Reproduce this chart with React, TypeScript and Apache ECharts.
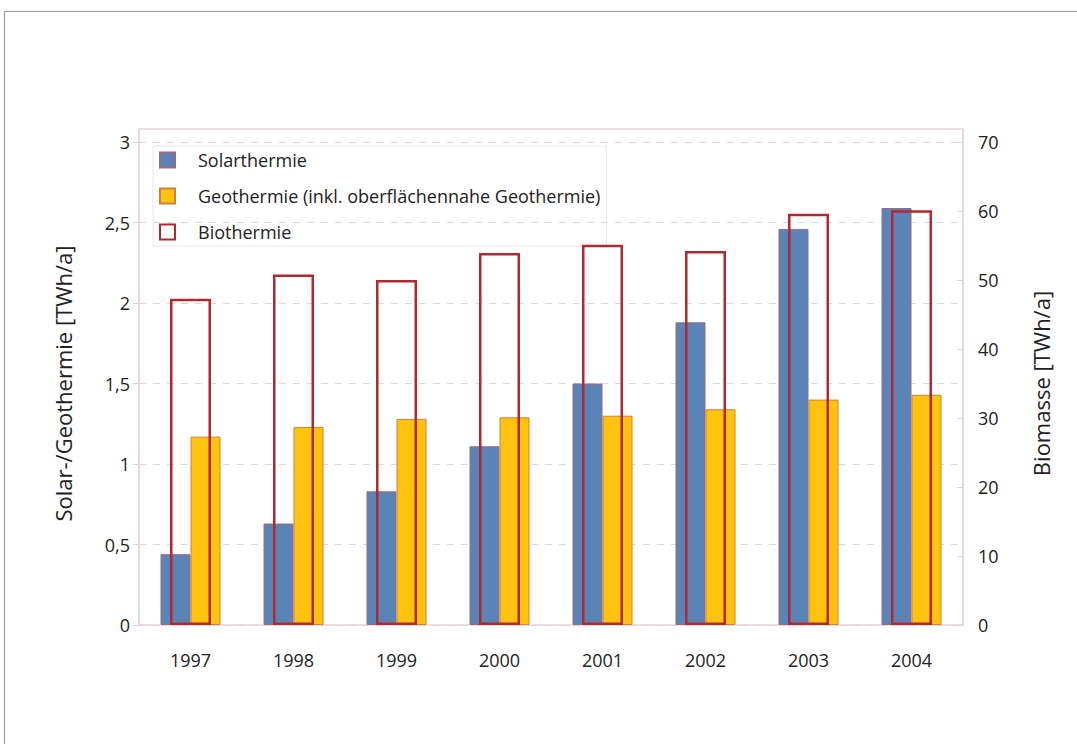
import React, { useEffect, useRef } from "react";
import * as echarts from "echarts";

const years = ["1997", "1998", "1999", "2000", "2001", "2002", "2003", "2004"];
const solar = [0.44, 0.63, 0.83, 1.11, 1.5, 1.88, 2.46, 2.59];
const geo = [1.17, 1.23, 1.28, 1.29, 1.3, 1.34, 1.4, 1.43];
const bio = [47.3, 50.8, 50.0, 53.9, 55.1, 54.2, 59.6, 60.1];
const leftTicks = [0, 0.5, 1, 1.5, 2, 2.5, 3];

const seriesNames = [
  "Solarthermie",
  "Geothermie (inkl. oberflächennahe Geothermie)",
  "Biothermie",
];

const FONT = "Open Sans";

export default function App() {
  const ref = useRef<HTMLDivElement>(null);
  useEffect(() => {
    if (!ref.current) return;
    const chart = echarts.init(ref.current, null, { renderer: "svg" });
    const fmt = (v: number) => String(v).replace(".", ",");
    chart.setOption({
      animation: false,
      backgroundColor: "#ffffff",
      textStyle: { fontFamily: FONT, color: "#222" },
      graphic: [
        {
          type: "rect",
          shape: { x: 4.5, y: 11.5, width: 1200, height: 900 },
          style: { fill: "none", stroke: "#9c9c9c", lineWidth: 1.2 },
          silent: true,
        },
        {
          type: "rect",
          shape: { x: 139, y: 129, width: 824, height: 496 },
          style: { fill: "none", stroke: "#dcbcc6", lineWidth: 1.2 },
          silent: true,
          z: 0,
        },
      ],
      legend: {
        orient: "vertical",
        left: 153,
        top: 146,
        z: 1,
        padding: [5, 6, 5, 6],
        itemWidth: 15,
        itemHeight: 15,
        itemGap: 18,
        icon: "rect",
        borderColor: "#e8e8e8",
        borderWidth: 1,
        data: seriesNames,
        textStyle: {
          fontFamily: FONT,
          fontSize: 18,
          color: "#222",
          padding: [0, 0, 0, 18],
        },
      },
      grid: { left: 139, right: 114, top: 142, bottom: 119, containLabel: false },
      xAxis: [
        {
          type: "category",
          data: years,
          axisLine: { show: false },
          axisTick: { show: false },
          axisLabel: {
            fontFamily: FONT,
            fontSize: 18,
            color: "#222",
            margin: 26,
          },
        },
        {
          type: "category",
          data: years,
          show: false,
        },
      ],
      yAxis: [
        {
          type: "value",
          min: 0,
          max: 3,
          interval: 0.5,
          name: "Solar-/Geothermie [TWh/a]",
          nameLocation: "middle",
          nameGap: 65,
          nameTextStyle: { fontFamily: FONT, fontSize: 22, color: "#222" },
          axisLine: { show: false },
          axisTick: { show: true, length: 6, lineStyle: { color: "#d6d6d6" } },
          axisLabel: {
            fontFamily: FONT,
            fontSize: 18,
            color: "#222",
            margin: 9,
            formatter: (v: number) => (leftTicks.includes(v) ? fmt(v) : ""),
          },
          splitLine: {
            show: true,
            lineStyle: { color: "#d9d9d9", type: [7, 7], width: 1 },
          },
        },
        {
          type: "value",
          min: 0,
          max: 70,
          interval: 10,
          position: "right",
          name: "Biomasse [TWh/a]",
          nameLocation: "middle",
          nameGap: 67,
          nameTextStyle: { fontFamily: FONT, fontSize: 22, color: "#222" },
          axisLine: { show: false },
          axisTick: { show: true, length: 6, inside: true, lineStyle: { color: "#d6d6d6" } },
          axisLabel: {
            fontFamily: FONT,
            fontSize: 18,
            color: "#222",
            margin: 15,
          },
          splitLine: { show: false },
        },
      ],
      series: [
        {
          name: seriesNames[0],
          type: "bar",
          xAxisIndex: 0,
          yAxisIndex: 0,
          data: solar,
          barWidth: 30,
          barGap: "0%",
          itemStyle: { color: "#5a84b7", borderColor: "#9a6b7e", borderWidth: 1 },
          z: 2,
        },
        {
          name: seriesNames[1],
          type: "bar",
          xAxisIndex: 0,
          yAxisIndex: 0,
          data: geo,
          barWidth: 30,
          barGap: "0%",
          itemStyle: { color: "#ffc20e", borderColor: "#d0803a", borderWidth: 1 },
          z: 2,
        },
        {
          name: seriesNames[2],
          type: "bar",
          xAxisIndex: 1,
          yAxisIndex: 1,
          data: bio,
          barWidth: 41,
          itemStyle: { color: "rgba(255,255,255,0)", borderColor: "#b3282e", borderWidth: 2.5 },
          z: 3,
        },
      ],
    });
    return () => chart.dispose();
  }, []);
  return (
    <div
      ref={ref}
      style={{ position: "fixed", left: 0, top: 0, width: 1077, height: 744 }}
    />
  );
}
